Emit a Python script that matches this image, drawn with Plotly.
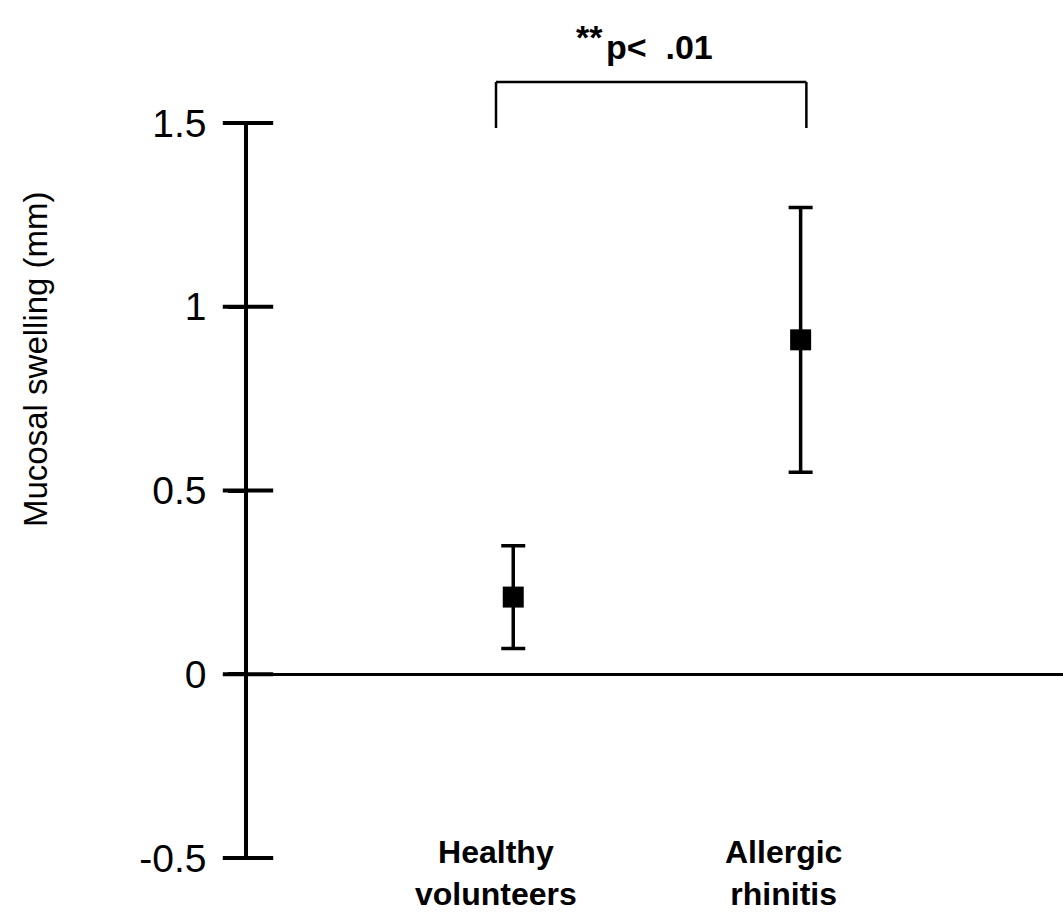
import plotly.graph_objects as go

groups = ["Healthy<br>volunteers", "Allergic<br>rhinitis"]
group_pos = [1, 2]
means = [0.21, 0.91]
err_plus = [0.14, 0.36]
err_minus = [0.14, 0.36]
ytick_vals = [-0.5, 0, 0.5, 1, 1.5]
ytick_text = ["-0.5", "0", "0.5", "1", "1.5"]
sig_stars = "**"
sig_text = "p<  .01"

FONT = "Liberation Sans, Arial, sans-serif"
L, W, T, H = 248, 815, 123, 735  # plot area geometry in px
X_RANGE = [0.077, 2.913]


def px_x(p):
    return (p - L) / W


def px_y(p):
    return (T + H - p) / H


fig = go.Figure()
fig.add_trace(go.Scatter(
    x=group_pos, y=means, mode="markers",
    marker=dict(symbol="square", size=21, color="black"),
    error_y=dict(type="data", symmetric=False, array=err_plus, arrayminus=err_minus,
                 color="black", thickness=3.5, width=12),
    showlegend=False,
))
# crossing tick marks on the y axis (ticks extend to both sides of the axis line)
fig.add_trace(go.Scatter(
    x=[X_RANGE[0]] * len(ytick_vals), y=ytick_vals, mode="markers", cliponaxis=False,
    marker=dict(symbol="line-ew", size=36, color="black", line=dict(color="black", width=4)),
    showlegend=False, hoverinfo="skip",
))

fig.update_layout(
    width=1063, height=919,
    margin=dict(l=L, r=1063 - L - W, t=T, b=919 - T - H),
    paper_bgcolor="white", plot_bgcolor="white",
    font=dict(family=FONT, color="black"),
    xaxis=dict(range=X_RANGE, showline=False, showgrid=False, zeroline=False,
               showticklabels=False, ticks=""),
    yaxis=dict(range=[-0.5, 1.5], tickmode="array", tickvals=ytick_vals, ticktext=ytick_text,
               showline=True, linecolor="black", linewidth=3.5,
               ticks="outside", ticklen=16, tickwidth=4, tickcolor="black",
               showgrid=False, zeroline=True, zerolinecolor="black", zerolinewidth=3,
               tickfont=dict(size=39, family=FONT), ticklabelstandoff=14),
)

# category labels
for pos, lab in zip(group_pos, groups):
    fig.add_annotation(x=pos, y=px_y(832), xref="x", yref="paper", xshift=-17,
                       text="<b>%s</b>" % lab, showarrow=False, yanchor="top",
                       font=dict(size=32, family=FONT, color="black"))

# y axis title
fig.add_annotation(x=px_x(35), y=px_y(359), xref="paper", yref="paper",
                   text="Mucosal swelling (mm)", textangle=-90, showarrow=False,
                   xanchor="center", yanchor="middle",
                   font=dict(size=33, family=FONT, color="black"))

# significance bracket
b_top = px_y(82)
b_bot = px_y(128)
xl, xr = 0.94, 2.02
for x0, y0, x1, y1 in [(xl, b_bot, xl, b_top), (xl, b_top, xr, b_top), (xr, b_top, xr, b_bot)]:
    fig.add_shape(type="line", xref="x", yref="paper", x0=x0, y0=y0, x1=x1, y1=y1,
                  line=dict(color="black", width=2.5))

fig.add_annotation(x=px_x(605), y=px_y(37), xref="paper", yref="paper",
                   text="<b>%s</b>" % sig_stars, showarrow=False, xanchor="right", yanchor="middle",
                   font=dict(size=34, family=FONT, color="black"))
fig.add_annotation(x=px_x(604), y=px_y(47), xref="paper", yref="paper",
                   text="<b>%s</b>" % sig_text, showarrow=False, xanchor="left", yanchor="middle",
                   font=dict(size=34, family=FONT, color="black"))

fig.write_html("out.html")
